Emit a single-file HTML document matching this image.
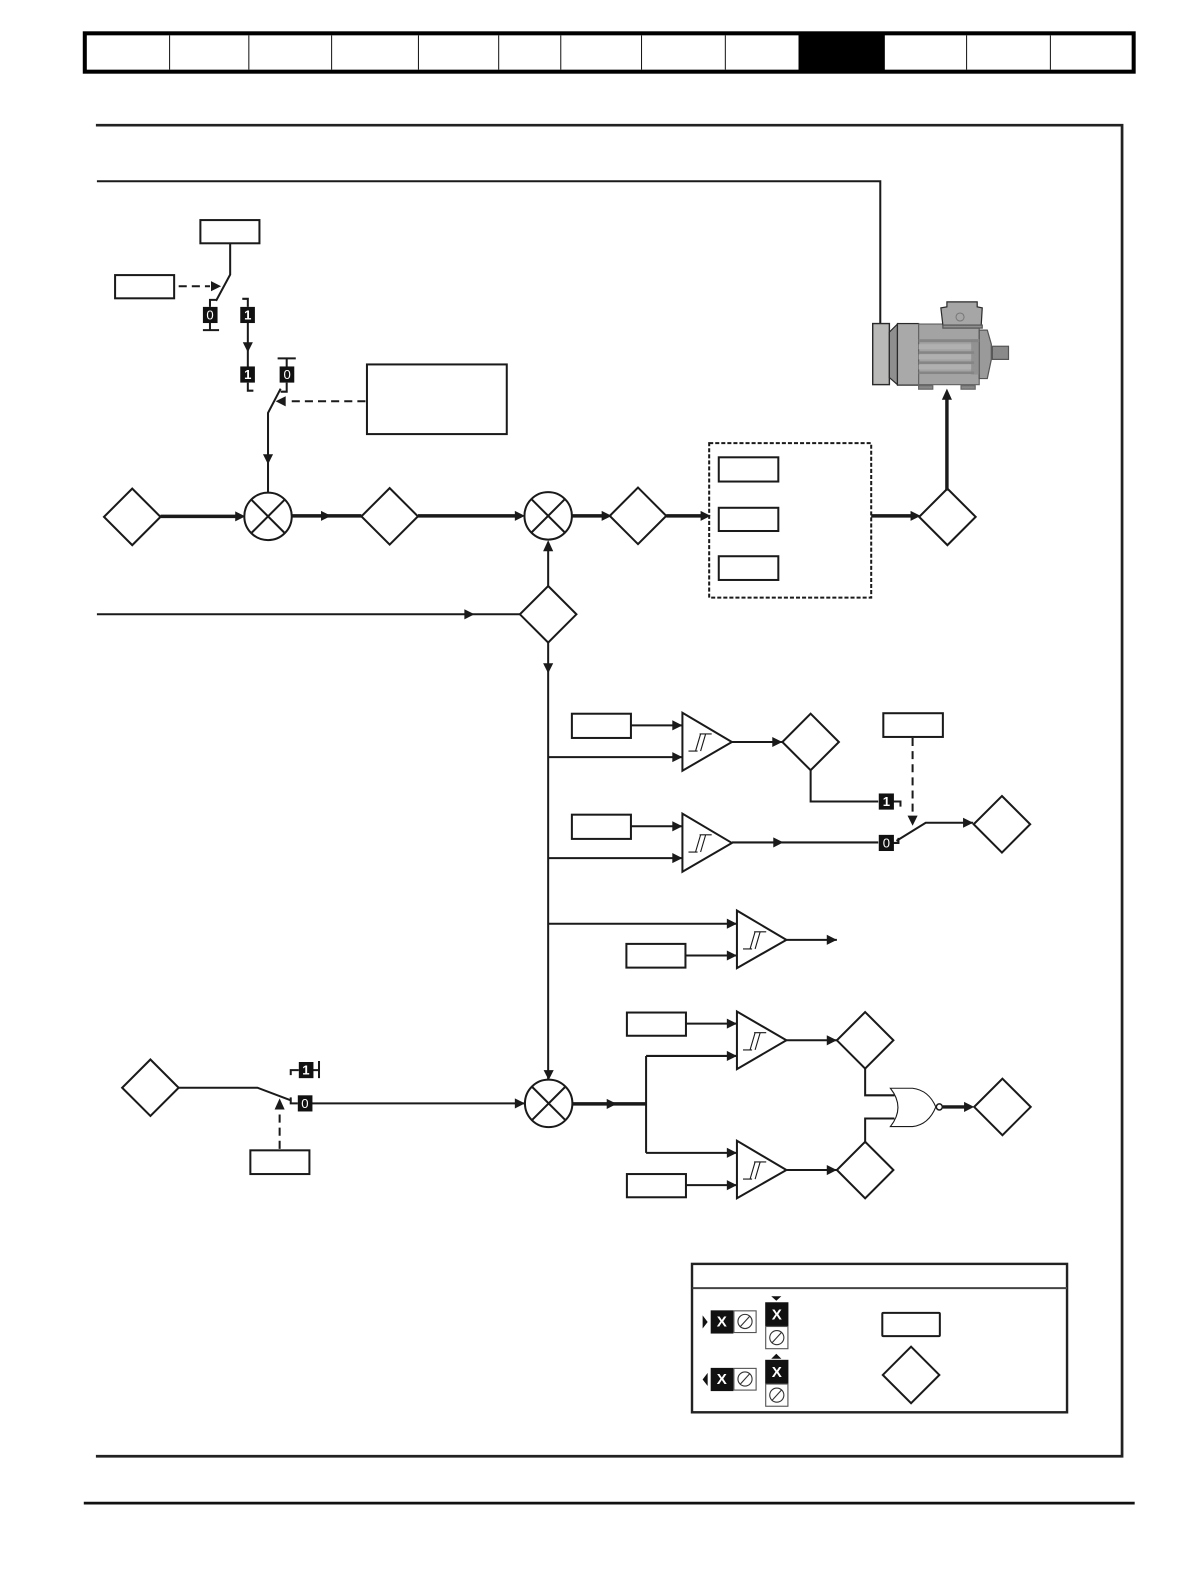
<!DOCTYPE html>
<html><head><meta charset="utf-8"><style>
html,body{margin:0;padding:0;background:#fff}
svg{display:block}
text{font-family:"Liberation Sans",sans-serif;font-weight:bold;fill:#fff;text-anchor:middle}
</style></head><body>
<svg width="1190" height="1582" viewBox="0 0 1178.8 1567.1" xmlns="http://www.w3.org/2000/svg">
<rect width="1190" height="1582" fill="#fff"/>
<!-- header -->
<rect x="84" y="33" width="1039" height="38" fill="#fff" stroke="#000" stroke-width="4"/>
<rect x="791" y="33" width="85.5" height="38" fill="#000"/>
<g stroke="#111" stroke-width="1"><path d="M168 35V69M246.500 35V69M328.500 35V69M414.500 35V69M494 35V69M555.500 35V69M635.500 35V69M718.500 35V69M957.500 35V69M1040.500 35V69"/></g>
<!-- frame and footer -->
<path d="M95 124H1111.500V1442.500H95" fill="none" stroke="#222" stroke-width="2.700"/>
<path d="M83 1489H1124" stroke="#111" stroke-width="2.700"/>
<g fill="none" stroke="#1a1a1a" stroke-width="2">
<!-- top feedback -->
<path d="M96 179.500H872V320"/>
<!-- param boxes -->
<rect x="198.500" y="218" width="58.500" height="23"/>
<rect x="114" y="272.500" width="58.500" height="23"/>
<rect x="363.500" y="361" width="138.500" height="69"/>
<rect x="712" y="453" width="59" height="24"/>
<rect x="712" y="503" width="59" height="23"/>
<rect x="712" y="551" width="59" height="23.500"/>
<rect x="566.500" y="707" width="58.500" height="24"/>
<rect x="566.500" y="807" width="58.500" height="24"/>
<rect x="875" y="706.500" width="59" height="23.500"/>
<rect x="620.500" y="935" width="58.500" height="23.500"/>
<rect x="621" y="1003" width="58.500" height="23"/>
<rect x="621" y="1163" width="58.500" height="23"/>
<rect x="248" y="1139.500" width="58.500" height="23.500"/>
<!-- diamonds -->
<path d="M131 484L159 512L131 540L103 512Z"/>
<path d="M386 483.500L414 511.500L386 539.500L358 511.500Z"/>
<path d="M632 483L660 511L632 539L604 511Z"/>
<path d="M938.500 484L966.500 512L938.500 540L910.500 512Z"/>
<path d="M543 580.500L571 608.500L543 636.500L515 608.500Z"/>
<path d="M803 707L831 735L803 763L775 735Z"/>
<path d="M992.500 788.500L1020.500 816.500L992.500 844.500L964.500 816.500Z"/>
<path d="M857 1002.500L885 1030.500L857 1058.500L829 1030.500Z"/>
<path d="M857 1131L885 1159L857 1187L829 1159Z"/>
<path d="M993 1068.500L1021 1096.500L993 1124.500L965 1096.500Z"/>
<path d="M149 1049.500L177 1077.500L149 1105.500L121 1077.500Z"/>
<!-- summing junctions -->
<circle cx="265.500" cy="511.500" r="23.500"/><path d="M249 495L282 528M282 495L249 528"/>
<circle cx="543" cy="511" r="23.500"/><path d="M526.500 494.500L559.500 527.500M559.500 494.500L526.500 527.500"/>
<circle cx="543.500" cy="1093" r="23.500"/><path d="M527 1076.500L560 1109.500M560 1076.500L527 1109.500"/>
<!-- comparators -->
<path d="M676 706V763.500L725 735Z"/>
<path d="M676 806V863.500L725 835Z"/>
<path d="M730 902V959L779 931Z"/>
<path d="M730 1002V1059L779 1030.500Z"/>
<path d="M730 1130V1187L779 1159Z"/>
<!-- switches and wires -->
<path d="M228 241V272L214 298M214 297H208V304M208 320V327M201 327H217"/>
<path d="M240 296H245.500V304M245.500 320V363M245.500 379V387H251"/>
<path d="M275 355H293M284 355V363M284 379V388H278M278 385L265.500 409V488"/>
<path d="M543 581V545M543 636V1070"/>
<path d="M96 608.500H515"/>
<path d="M625 718.500H676M543 750H676M725 735H775M803 763V794H870M885 794H892V799"/>
<path d="M625 818.500H676M543 850H676M725 834.500H870M885 835H890V830M888 833L917 815H964"/>
<path d="M543 915H730M679 946.500H730M779 931H829"/>
<path d="M679 1014H730M640 1046H730M779 1030.500H829M640 1046V1142M640 1142H730M679 1174H730M779 1159H829"/>
<path d="M177 1077.500H255L288 1090M288 1087V1093H295M309 1093H520"/>
<path d="M296 1060H288V1065M310 1060H316M316 1051V1068"/>
<path d="M857 1058.500V1085H886M857 1131V1108H886"/>
<!-- dashed box -->
<rect x="702.500" y="439" width="160.500" height="153" stroke-dasharray="4 2"/>
</g>
<!-- dashed controls -->
<g fill="none" stroke="#1a1a1a" stroke-width="2" stroke-dasharray="8 5">
<path d="M177 283.500H208"/>
<path d="M362 397.500H284"/>
<path d="M904 731V808"/>
<path d="M277 1138V1098"/>
</g>
<!-- thick wires -->
<g fill="none" stroke="#1a1a1a" stroke-width="3.400">
<path d="M159 511.500H236M289 511H358M414 511H516M567 511H600M660 511H698M863 511H906M938 486V392M567 1093.500H640M934 1096.500H957"/>
</g>
<!-- arrowheads -->
<g fill="#1a1a1a">
<polygon points="243,511.500 233,506.500 233,516.500"/>
<polygon points="328,511 318,506 318,516"/>
<polygon points="520,511 510,506 510,516"/>
<polygon points="606,511 596,506 596,516"/>
<polygon points="704,511 694,506 694,516"/>
<polygon points="912,511 902,506 902,516"/>
<polygon points="938,385 933,396 943,396"/>
<polygon points="543,535 538,546 548,546"/>
<polygon points="543,667 538,657 548,657"/>
<polygon points="470,608.500 460,603.500 460,613.500"/>
<polygon points="245.500,349 240.500,339 250.500,339"/>
<polygon points="265.500,460 260.500,450 270.500,450"/>
<polygon points="219,283.500 209,278.500 209,288.500"/>
<polygon points="273,397.500 283,392.500 283,402.500"/>
<polygon points="676,718.500 666,713.500 666,723.500"/>
<polygon points="676,750 666,745 666,755"/>
<polygon points="775,735 765,730 765,740"/>
<polygon points="676,818.500 666,813.500 666,823.500"/>
<polygon points="676,850 666,845 666,855"/>
<polygon points="776,834.500 766,829.500 766,839.500"/>
<polygon points="964,815 954,810 954,820"/>
<polygon points="904,818 899,808 909,808"/>
<polygon points="730,915 720,910 720,920"/>
<polygon points="730,946.500 720,941.500 720,951.500"/>
<polygon points="829,931 819,926 819,936"/>
<polygon points="730,1014 720,1009 720,1019"/>
<polygon points="730,1046 720,1041 720,1051"/>
<polygon points="829,1030.500 819,1025.500 819,1035.500"/>
<polygon points="730,1142 720,1137 720,1147"/>
<polygon points="730,1174 720,1169 720,1179"/>
<polygon points="829,1159 819,1154 819,1164"/>
<polygon points="965,1096.500 955,1091.500 955,1101.500"/>
<polygon points="611,1093.500 601,1088.500 601,1098.500"/>
<polygon points="543.500,1070 538.500,1060 548.500,1060"/>
<polygon points="520,1093 510,1088 510,1098"/>
<polygon points="277,1088 272,1099 282,1099"/>
</g>
<!-- hysteresis symbols -->
<g fill="none" stroke="#1a1a1a" stroke-width="1.100">
<path d="M682 744H691M689 744L694 727M694 744L699 727M693 727H705"/>
<path d="M682 844H691M689 844L694 827M694 844L699 827M693 827H705"/>
<path d="M736 940H745M743 940L748 923M748 940L753 923M747 923H759"/>
<path d="M736 1040H745M743 1040L748 1023M748 1040L753 1023M747 1023H759"/>
<path d="M736 1168H745M743 1168L748 1151M748 1168L753 1151M747 1151H759"/>
</g>
<!-- NOR gate -->
<path d="M882 1078H904Q920 1080 927 1096.500Q920 1114 904 1116H882Q897 1097 882 1078Z" fill="#fff" stroke="#1a1a1a" stroke-width="1.100"/>
<circle cx="930.500" cy="1096.500" r="3" fill="#fff" stroke="#1a1a1a" stroke-width="1.500"/>
<!-- number blocks -->
<g fill="#111">
<rect x="201" y="304" width="14.500" height="16"/>
<rect x="238" y="304" width="14.500" height="16"/>
<rect x="238" y="363" width="14.500" height="16"/>
<rect x="277" y="363" width="14.500" height="16"/>
<rect x="870.500" y="786" width="15" height="16"/>
<rect x="870.500" y="827" width="15" height="16"/>
<rect x="295" y="1085" width="14.500" height="16"/>
<rect x="296" y="1052" width="14.500" height="16"/>
</g>
<g font-size="13">
<text x="208" y="316.500" style="font-weight:normal">0</text>
<text x="245.500" y="316.500">1</text>
<text x="245.500" y="375.500">1</text>
<text x="284.500" y="375.500" style="font-weight:normal">0</text>
<text x="878" y="798.500">1</text>
<text x="878" y="839.500" style="font-weight:normal">0</text>
<text x="302" y="1097.500" style="font-weight:normal">0</text>
<text x="303" y="1064.500">1</text>
</g>
<!-- motor -->
<g stroke="#2a2a2a" stroke-width="1.200">
<rect x="864.500" y="320.500" width="16.500" height="60.500" fill="#b9b9b7" stroke-width="1.400"/>
<polygon points="881,329 889,321 889,381 881,374" fill="#8f8f8f"/>
<rect x="889" y="320.500" width="21" height="61" fill="#a9a9a9"/>
<rect x="910" y="321" width="60" height="60" fill="#a3a3a3" stroke="#666"/>
<polygon points="970,327 978,327 982,341 982,356 978,375 970,375" fill="#9a9a9a" stroke="#555"/>
<rect x="983" y="343" width="16" height="13" fill="#8a8a8a" stroke="#555"/>
<rect x="910" y="382" width="14" height="3.500" fill="#888" stroke="#666"/>
<rect x="952" y="382" width="14" height="3.500" fill="#888" stroke="#666"/>
<polygon points="938,299 968,299 968,304 973,305 972,322 934,322 932,305 938,304" fill="#a6a6a6"/>
<rect x="934" y="322" width="39" height="3" fill="#8f8f8f" stroke="#555"/>
</g>
<circle cx="951" cy="314" r="4" fill="none" stroke="#777" stroke-width="1"/>
<g fill="#858585">
<rect x="910" y="336" width="60" height="3"/>
<rect x="910" y="348" width="55" height="2.500"/>
<rect x="910" y="358" width="55" height="2.500"/>
<rect x="910" y="368" width="55" height="2.500"/>
<rect x="962" y="336" width="8" height="35" opacity=".55"/>
</g>
<g fill="#b0b0b0">
<rect x="910" y="341" width="52" height="5"/>
<rect x="910" y="351" width="52" height="5"/>
<rect x="910" y="361" width="52" height="5"/>
</g>
<!-- legend -->
<rect x="685.500" y="1252" width="371.500" height="147" fill="#fff" stroke="#222" stroke-width="2.400"/>
<path d="M686 1276H1057" stroke="#444" stroke-width="2"/>
<rect x="874" y="1300.500" width="57" height="23" rx="1" fill="none" stroke="#1a1a1a" stroke-width="2"/>
<path d="M902.500 1334L930.500 1362L902.500 1390L874.500 1362Z" fill="none" stroke="#1a1a1a" stroke-width="2"/>
<g fill="#111">
<rect x="704" y="1298" width="22.500" height="23"/>
<rect x="704" y="1355" width="22.500" height="23"/>
<rect x="758" y="1290" width="23" height="23.500"/>
<rect x="758" y="1347" width="23" height="23.500"/>
<polygon points="696,1303 701,1309.500 696,1316"/>
<polygon points="701,1360 696,1366.500 701,1373"/>
<polygon points="764,1284 774,1284 769,1288.500"/>
<polygon points="764,1346 774,1346 769,1341"/>
</g>
<g fill="#fff" stroke="#555" stroke-width="1.100">
<rect x="727" y="1298.500" width="22" height="21.500"/>
<rect x="727" y="1355.500" width="22" height="21.500"/>
<rect x="758.500" y="1314" width="22" height="22"/>
<rect x="758.500" y="1371" width="22" height="22"/>
</g>
<g fill="none" stroke="#333" stroke-width="1.100">
<circle cx="738" cy="1309" r="7"/><path d="M733 1314.500L743 1303.500"/>
<circle cx="738" cy="1366" r="7"/><path d="M733 1371.500L743 1360.500"/>
<circle cx="769.500" cy="1325" r="7"/><path d="M764.500 1330.500L774.500 1319.500"/>
<circle cx="769.500" cy="1382" r="7"/><path d="M764.500 1387.500L774.500 1376.500"/>
</g>
<g font-size="15">
<text x="715" y="1314">X</text>
<text x="715" y="1371">X</text>
<text x="769.500" y="1307">X</text>
<text x="769.500" y="1364">X</text>
</g>
</svg>
</body></html>
